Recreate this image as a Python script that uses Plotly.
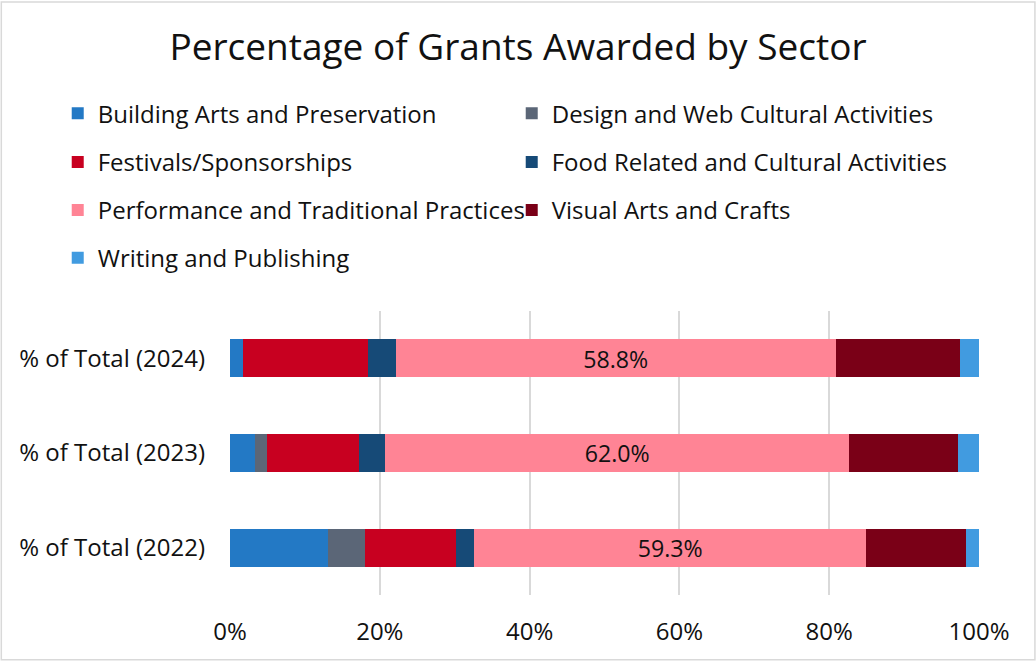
import plotly.graph_objects as go

# Categories (bottom to top) and sector shares per year
years = ["% of Total (2022)", "% of Total (2023)", "% of Total (2024)"]

building_arts = [14.8, 3.3, 1.8]
design_web = [5.7, 1.6, 0.0]
festivals = [13.7, 12.3, 16.6]
food_related = [2.8, 3.5, 3.7]
performance = [59.3, 62.0, 58.8]
visual_arts = [15.1, 14.5, 16.6]
writing = [2.0, 2.8, 2.5]

sectors = [
    ("Building Arts and Preservation", building_arts, "#2379C5", "legend"),
    ("Design and Web Cultural Activities", design_web, "#5B6677", "legend"),
    ("Festivals/Sponsorships", festivals, "#C80020", "legend2"),
    ("Food Related and Cultural Activities", food_related, "#164A77", "legend2"),
    ("Performance and Traditional Practices", performance, "#FF8495", "legend3"),
    ("Visual Arts and Crafts", visual_arts, "#7A0017", "legend3"),
    ("Writing and Publishing", writing, "#419BE0", "legend4"),
]

FONT = "Open Sans"
TEXT = "#111111"

fig = go.Figure()
for name, vals, color, leg in sectors:
    is_perf = name.startswith("Performance")
    fig.add_trace(go.Bar(
        y=years,
        x=vals,
        name=name,
        orientation="h",
        marker=dict(color=color, line=dict(width=0)),
        legend=leg,
        text=[f"{v:.1f}%" for v in vals] if is_perf else None,
        textposition="inside" if is_perf else "none",
        insidetextanchor="middle",
        textangle=0,
        textfont=dict(family=FONT, size=24, color=TEXT),
        hoverinfo="x+y+name",
    ))

plot_left, plot_w = 229.5, 750.0
plot_top, plot_h = 310.5, 285.0


def paper_x(px):
    return (px - plot_left) / plot_w


def paper_y(py):
    return (plot_top + plot_h - py) / plot_h


legend_common = dict(
    orientation="h",
    xanchor="left",
    yanchor="middle",
    x=paper_x(57),
    entrywidth=409,
    entrywidthmode="pixels",
    font=dict(family=FONT, size=24, color=TEXT),
    bgcolor="rgba(0,0,0,0)",
    itemclick=False,
    traceorder="normal",
)
row_y = [112.5, 161.5, 209.5, 257.5]

fig.update_layout(
    width=1036,
    height=661,
    margin=dict(l=plot_left, r=1036 - plot_left - plot_w, t=plot_top,
                b=661 - plot_top - plot_h),
    paper_bgcolor="white",
    plot_bgcolor="white",
    barmode="stack",
    barnorm="percent",
    bargap=0.6,
    font=dict(family=FONT, size=24, color=TEXT),
    title=dict(
        text="Percentage of Grants Awarded by Sector",
        font=dict(family=FONT, size=37, color=TEXT),
        x=0.5,
        xref="container",
        xanchor="center",
        y=1 - 47 / 661,
        yanchor="middle",
    ),
    legend=dict(legend_common, y=paper_y(row_y[0])),
    legend2=dict(legend_common, y=paper_y(row_y[1])),
    legend3=dict(legend_common, y=paper_y(row_y[2])),
    legend4=dict(legend_common, y=paper_y(row_y[3])),
    xaxis=dict(
        range=[0, 100],
        dtick=20,
        ticksuffix="%",
        showgrid=True,
        gridcolor="#D9D9D9",
        gridwidth=2,
        zeroline=False,
        showline=False,
        ticks="",
        ticklabelstandoff=20,
        tickfont=dict(family=FONT, size=24, color=TEXT),
        fixedrange=True,
    ),
    yaxis=dict(
        categoryorder="array",
        categoryarray=years,
        showgrid=False,
        zeroline=False,
        showline=False,
        ticks="",
        ticklabelstandoff=24,
        tickfont=dict(family=FONT, size=24, color=TEXT),
        fixedrange=True,
    ),
    shapes=[dict(
        type="rect",
        xref="paper", yref="paper",
        x0=paper_x(0.5), x1=paper_x(1035.5),
        y0=paper_y(660.5), y1=paper_y(0.5),
        line=dict(color="#D9D9D9", width=1.5),
        fillcolor="rgba(0,0,0,0)",
        layer="below",
    )],
)

fig.write_html("out.html")
